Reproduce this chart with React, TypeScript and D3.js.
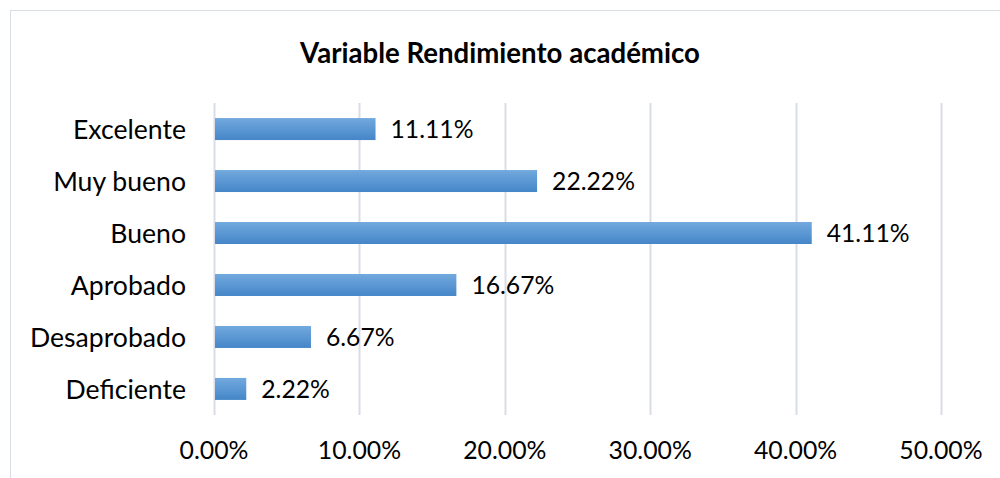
import React, { useEffect, useRef } from "react";
import * as d3 from "d3";

const categories = ["Excelente", "Muy bueno", "Bueno", "Aprobado", "Desaprobado", "Deficiente"];
const values = [11.11, 22.22, 41.11, 16.67, 6.67, 2.22];
const ticks = [0, 10, 20, 30, 40, 50];
const title = "Variable Rendimiento académico";

export default function App() {
  const ref = useRef<SVGSVGElement>(null);

  useEffect(() => {
    const width = 1000,
      height = 478;
    const margin = { top: 103, right: 59, bottom: 63, left: 214 };
    const font = "Lato, 'Open Sans', sans-serif";

    const svg = d3.select(ref.current).attr("width", width).attr("height", height);
    svg.selectAll("*").remove();

    // chart frame
    svg
      .append("rect")
      .attr("x", 10.5)
      .attr("y", 10.5)
      .attr("width", 1000)
      .attr("height", 500)
      .attr("fill", "#fff")
      .attr("stroke", "#d9dde5");

    const grad = svg
      .append("defs")
      .append("linearGradient")
      .attr("id", "barGrad")
      .attr("x1", 0)
      .attr("y1", 0)
      .attr("x2", 0)
      .attr("y2", 1);
    grad.append("stop").attr("offset", "0%").attr("stop-color", "#72a9de");
    grad.append("stop").attr("offset", "100%").attr("stop-color", "#4586c8");

    const x = d3
      .scaleLinear()
      .domain([0, 50])
      .range([margin.left, width - margin.right]);
    const y = d3
      .scaleBand()
      .domain(categories)
      .range([margin.top, height - margin.bottom])
      .paddingInner(0.577)
      .paddingOuter(0.29);

    // gridlines
    svg
      .append("g")
      .selectAll("line")
      .data(ticks)
      .enter()
      .append("line")
      .attr("x1", d => Math.round(x(d)) + 0.5)
      .attr("x2", d => Math.round(x(d)) + 0.5)
      .attr("y1", margin.top)
      .attr("y2", height - margin.bottom)
      .attr("stroke", "#d9dde5")
      .attr("stroke-width", 2);

    // bars
    svg
      .append("g")
      .selectAll("rect")
      .data(values)
      .enter()
      .append("rect")
      .attr("x", x(0) + 1)
      .attr("y", (d, i) => y(categories[i])!)
      .attr("width", d => x(d) - x(0) - 1)
      .attr("height", y.bandwidth())
      .attr("fill", "url(#barGrad)");

    // value labels
    svg
      .append("g")
      .selectAll("text")
      .data(values)
      .enter()
      .append("text")
      .attr("x", d => x(d) + 15)
      .attr("y", (d, i) => y(categories[i])! + y.bandwidth() / 2)
      .attr("dy", "0.36em")
      .attr("font-family", font)
      .attr("font-size", 24.7)
      .attr("fill", "#000")
      .text(d => d.toFixed(2) + "%");

    // category labels
    svg
      .append("g")
      .selectAll("text")
      .data(categories)
      .enter()
      .append("text")
      .attr("x", margin.left - 28)
      .attr("y", d => y(d)! + y.bandwidth() / 2)
      .attr("dy", "0.36em")
      .attr("text-anchor", "end")
      .attr("font-family", font)
      .attr("font-size", 26.6)
      .attr("fill", "#000")
      .text(d => d);

    // x tick labels
    svg
      .append("g")
      .selectAll("text")
      .data(ticks)
      .enter()
      .append("text")
      .attr("x", d => x(d))
      .attr("y", 450)
      .attr("dy", "0.36em")
      .attr("text-anchor", "middle")
      .attr("font-family", font)
      .attr("font-size", 24.8)
      .attr("fill", "#000")
      .text(d => d.toFixed(2) + "%");

    svg
      .append("text")
      .attr("x", 500)
      .attr("y", 53)
      .attr("dy", "0.36em")
      .attr("text-anchor", "middle")
      .attr("font-family", font)
      .attr("font-weight", "bold")
      .attr("font-size", 27.6)
      .attr("fill", "#000")
      .text(title);
  }, []);

  return <svg ref={ref} style={{ position: "absolute", left: 0, top: 0 }} />;
}
